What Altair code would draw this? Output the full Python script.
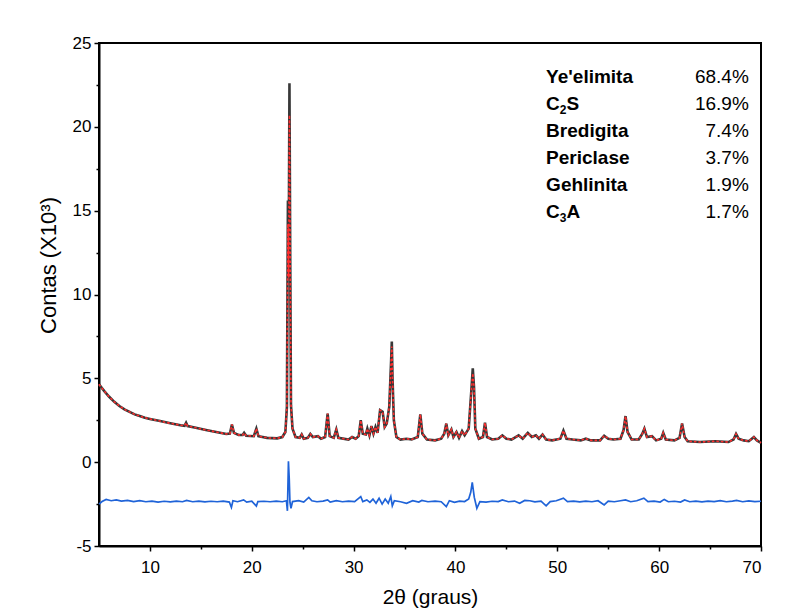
import altair as alt
import pandas as pd

# ---------------- data ----------------
two_theta = [
    5.0, 5.5, 6.0, 6.5, 7.0, 7.5, 8.0, 8.5, 9.0, 9.5, 10.0, 11.0, 12.0, 13.0, 13.4, 13.55, 13.7,
    14.5, 15.5, 16.5, 17.5, 17.85, 18.05, 18.25, 18.7, 19.1, 19.25, 19.45, 20.2, 20.45, 20.65,
    21.5, 22.5, 23.0, 23.3, 23.45, 23.55, 23.62, 23.7, 23.78, 23.85, 24.0, 24.3, 24.7, 24.9,
    25.1, 25.5, 25.75, 26.0, 26.5, 26.8, 27.2, 27.45, 27.65, 28.05, 28.3, 28.5, 29.5, 29.85,
    30.2, 30.5, 30.7, 30.9, 31.2, 31.35, 31.55, 31.75, 31.95, 32.15, 32.35, 32.6, 32.85, 33.05,
    33.25, 33.5, 33.68, 33.75, 33.82, 33.95, 34.2, 34.6, 35.2, 35.7, 36.3, 36.55, 36.75, 37.2,
    38.0, 38.6, 38.9, 39.1, 39.3, 39.6, 39.8, 40.1, 40.35, 40.65, 40.9, 41.3, 41.55, 41.7,
    41.82, 41.95, 42.3, 42.7, 42.9, 43.1, 43.6, 44.2, 44.6, 45.0, 45.5, 46.2, 46.6, 47.1, 47.5,
    47.9, 48.2, 48.55, 48.9, 49.5, 50.3, 50.6, 50.9, 51.5, 52.3, 52.8, 53.3, 54.2, 54.6, 55.0,
    55.5, 56.2, 56.5, 56.7, 56.9, 57.3, 58.0, 58.35, 58.55, 58.8, 59.3, 59.7, 60.2, 60.4, 60.65,
    61.5, 62.0, 62.25, 62.5, 62.8, 64.0, 65.5, 66.8, 67.3, 67.55, 67.8, 68.3, 68.8, 69.1, 69.3,
    69.6, 70.0,
]
observed = [
    4.65, 4.25, 3.9, 3.6, 3.35, 3.15, 3.0, 2.85, 2.75, 2.65, 2.58, 2.45, 2.32, 2.2, 2.17, 2.35, 2.15,
    2.05, 1.92, 1.8, 1.68, 1.7, 2.25, 1.75, 1.62, 1.62, 1.75, 1.58, 1.55, 2.0, 1.55,
    1.45, 1.42, 1.5, 1.8, 3.3, 15.6, 11.0, 22.6, 11.7, 3.4, 2.0, 1.5, 1.45, 1.65,
    1.4, 1.45, 1.68, 1.5, 1.55, 1.4, 1.5, 2.9, 1.55, 1.45, 1.95, 1.45, 1.35, 1.5,
    1.4, 1.55, 2.5, 1.7, 1.65, 2.0, 1.6, 2.15, 1.7, 2.1, 1.75, 3.1, 3.0, 2.1,
    2.3, 3.3, 6.0, 7.2, 5.0, 2.5, 1.5, 1.35, 1.4, 1.35, 1.5, 2.85, 1.7, 1.35,
    1.3, 1.4, 1.7, 2.3, 1.6, 1.95, 1.5, 1.8, 1.45, 1.85, 1.6, 2.0, 4.2, 5.6,
    4.5, 2.0, 1.4, 1.5, 2.35, 1.5, 1.35, 1.4, 1.6, 1.4, 1.35, 1.6, 1.4, 1.75, 1.5,
    1.6, 1.4, 1.65, 1.35, 1.3, 1.4, 1.88, 1.4, 1.35, 1.3, 1.4, 1.3, 1.3, 1.58, 1.4,
    1.35, 1.4, 1.9, 2.75, 1.8, 1.35, 1.35, 1.7, 2.0, 1.5, 1.55, 1.3, 1.4, 1.75, 1.35,
    1.3, 1.45, 2.3, 1.5, 1.25, 1.2, 1.25, 1.2, 1.35, 1.68, 1.4, 1.3, 1.25, 1.4, 1.5,
    1.3, 1.15,
]
# calculated pattern: same as observed except where the fit falls short
calc_overrides = {23.55: 14.2, 23.7: 20.7, 23.78: 11.0, 33.75: 6.9, 41.7: 5.3}

diff_theta = [
    5.0, 5.3, 5.7, 6.2, 6.7, 7.2, 7.8, 8.4, 9.0, 9.6, 10.2, 10.8, 11.4, 12.0, 12.6, 13.2, 13.6,
    14.2, 14.8, 15.4, 16.0, 16.6, 17.2, 17.8, 18.0, 18.15, 18.6, 19.2, 19.5, 20.0, 20.45, 20.6,
    21.2, 21.8, 22.4, 23.0, 23.4, 23.5, 23.6, 23.68, 23.75, 23.85, 24.0, 24.6, 25.1, 25.6, 25.9,
    26.4, 27.0, 27.45, 27.7, 28.3, 28.9, 29.5, 30.1, 30.7, 30.9, 31.3, 31.6, 31.9, 32.2, 32.5,
    32.8, 33.1, 33.4, 33.65, 33.8, 34.0, 34.6, 35.2, 35.8, 36.4, 36.7, 37.3, 38.0, 38.6, 39.1,
    39.4, 39.9, 40.4, 40.9, 41.3, 41.5, 41.65, 41.85, 42.1, 42.4, 43.0, 43.6, 44.2, 44.6, 45.2,
    45.8, 46.3, 46.8, 47.3, 47.8, 48.4, 48.9, 49.3, 49.9, 50.6, 51.0, 51.6, 52.2, 52.8, 53.4,
    54.0, 54.6, 55.0, 55.6, 56.2, 56.7, 57.2, 57.8, 58.5, 58.9, 59.5, 60.1, 60.5, 60.9, 61.5,
    62.1, 62.5, 63.0, 63.6, 64.2, 64.8, 65.4, 66.0, 66.6, 67.2, 67.6, 68.2, 68.8, 69.4, 70.0,
]
difference = [
    -2.5, -2.35, -2.22, -2.3, -2.25, -2.32, -2.28, -2.35, -2.3, -2.36, -2.32, -2.38, -2.33, -2.37, -2.32, -2.36, -2.28,
    -2.36, -2.32, -2.37, -2.33, -2.36, -2.32, -2.38, -2.7, -2.3, -2.36, -2.25, -2.38, -2.33, -2.62, -2.35,
    -2.33, -2.36, -2.32, -2.36, -2.3, -2.9, 0.05, -1.0, -2.4, -2.75, -2.35, -2.3, -2.38, -2.1, -2.3,
    -2.36, -2.32, -2.25, -2.38, -2.3, -2.36, -2.32, -2.35, -2.05, -2.35, -2.25, -2.4, -2.2, -2.45, -2.15,
    -2.5, -2.2, -2.45, -2.05, -2.6, -2.3, -2.36, -2.45, -2.3, -2.38, -2.28, -2.36, -2.32, -2.36, -2.65,
    -2.3, -2.4, -2.32, -2.35, -2.2, -1.8, -1.2, -2.1, -2.75, -2.35, -2.38, -2.33, -2.35, -2.25, -2.36,
    -2.32, -2.45, -2.28, -2.3, -2.37, -2.32, -2.6, -2.35, -2.3, -2.15, -2.35, -2.32, -2.37, -2.32, -2.36,
    -2.3, -2.55, -2.33, -2.36, -2.3, -2.25, -2.36, -2.3, -2.15, -2.35, -2.32, -2.38, -2.22, -2.36, -2.33,
    -2.38, -2.25, -2.36, -2.32, -2.37, -2.32, -2.35, -2.3, -2.36, -2.32, -2.28, -2.36, -2.31, -2.35, -2.33,
]

# phase names: (main letter, subscript, rest) ; plain names have no subscript
phase_lead = ["Ye'elimita", "C", "Bredigita", "Periclase", "Gehlinita", "C"]
phase_sub = ["", "2", "", "", "", "3"]
phase_tail = ["", "S", "", "", "", "A"]
fractions = ["68.4%", "16.9%", "7.4%", "3.7%", "1.9%", "1.7%"]

x_ticks = [10, 15, 20, 25, 30, 35, 40, 45, 50, 55, 60, 65, 70]
y_ticks = [-5, -2.5, 0, 2.5, 5, 7.5, 10, 12.5, 15, 17.5, 20, 22.5, 25]

# ---------------- chart ----------------
FONT = "Liberation Sans"
LEG_SIZE = 19
calculated = [calc_overrides.get(t, v) for t, v in zip(two_theta, observed)]
pattern = pd.DataFrame({"t": two_theta, "obs": observed, "calc": calculated})
diff_df = pd.DataFrame({"t": diff_theta, "d": difference})

# legend rows placed in data units, row spacing ~27 px
ROW0, STEP = 22.97, 1.61
legend_df = pd.DataFrame({
    "lead": phase_lead,
    "sub": phase_sub,
    "tail": phase_tail,
    "frac": fractions,
    "row": list(range(len(fractions))),
})

xs = alt.Scale(domain=[5, 70], nice=False, zero=False)
ys = alt.Scale(domain=[-5, 25], nice=False, zero=False)

x_axis = alt.Axis(
    values=x_ticks, orient="bottom", title="2θ (graus)", grid=False,
    tickSize={"condition": {"test": "datum.value % 10 !== 0", "value": 3}, "value": 5},
    labelExpr="datum.value % 10 === 0 ? toString(datum.value) : ''",
    tickWidth=1.5, tickColor="black", domainColor="black", domainWidth=2,
    labelFont=FONT, labelFontSize=17, labelColor="black", labelPadding=8,
    titleFont=FONT, titleFontSize=21, titleFontWeight="normal", titleColor="black",
    titleBaseline="alphabetic", titleY=57,
)
y_axis = alt.Axis(
    values=y_ticks, orient="left", title="Contas (X10³)", grid=False,
    tickSize={"condition": {"test": "datum.value % 5 !== 0", "value": 3}, "value": 5},
    labelExpr="datum.value % 5 === 0 ? toString(datum.value) : ''",
    tickWidth=1.5, tickColor="black", domainColor="black", domainWidth=2,
    labelFont=FONT, labelFontSize=17, labelColor="black", labelPadding=3,
    titleFont=FONT, titleFontSize=22, titleFontWeight="normal", titleColor="black",
    titleAngle=270, titleAlign="center", titleBaseline="middle", titleX=-51, titleY=222,
)

base = alt.Chart(pattern)
obs_line = base.mark_line(color="#383838", strokeWidth=2.6).encode(
    x=alt.X("t:Q", scale=xs, axis=x_axis),
    y=alt.Y("obs:Q", scale=ys, axis=y_axis),
)
calc_line = base.mark_line(color="#ff2d2d", strokeWidth=1.6, strokeDash=[2.5, 2]).encode(
    x=alt.X("t:Q", scale=xs),
    y=alt.Y("calc:Q", scale=ys),
)
diff_line = alt.Chart(diff_df).mark_line(color="#1f63d8", strokeWidth=1.7).encode(
    x=alt.X("t:Q", scale=xs),
    y=alt.Y("d:Q", scale=ys),
)

leg = alt.Chart(legend_df).transform_calculate(
    ypos=f"{ROW0} - {STEP} * datum.row",
    xname="48.9",
    xfrac="68.8",
)
enc_name = dict(x=alt.X("xname:Q", scale=xs), y=alt.Y("ypos:Q", scale=ys))
names = leg.mark_text(font=FONT, fontSize=LEG_SIZE, fontWeight="bold", align="left",
                      baseline="middle", color="black").encode(text="lead:N", **enc_name)
# chemical subscripts (C2S, C3A): small digit lowered, then the following letter
C_W = 0.722 * LEG_SIZE
SUB_SIZE = 12
subs = leg.transform_filter("datum.sub != ''").mark_text(
    font=FONT, fontSize=SUB_SIZE, fontWeight="bold", align="left", baseline="middle",
    color="black", dx=C_W, dy=6).encode(text="sub:N", **enc_name)
tails = leg.transform_filter("datum.tail != ''").mark_text(
    font=FONT, fontSize=LEG_SIZE, fontWeight="bold", align="left", baseline="middle",
    color="black", dx=C_W + 0.556 * SUB_SIZE).encode(text="tail:N", **enc_name)
fracs = leg.mark_text(font=FONT, fontSize=LEG_SIZE, align="right",
                      baseline="middle", color="black").encode(
    x=alt.X("xfrac:Q", scale=xs),
    y=alt.Y("ypos:Q", scale=ys),
    text="frac:N",
)

chart = alt.layer(obs_line, calc_line, diff_line, names, subs, tails, fracs).properties(
    width=662, height=503,
    autosize=alt.AutoSizeParams(type="none"),
    padding={"left": 91, "top": 35, "right": 26, "bottom": 63},
    background="white",
).configure_view(stroke="black", strokeWidth=2)

chart.save("out.html", embed_options={"renderer": "svg", "actions": False})
